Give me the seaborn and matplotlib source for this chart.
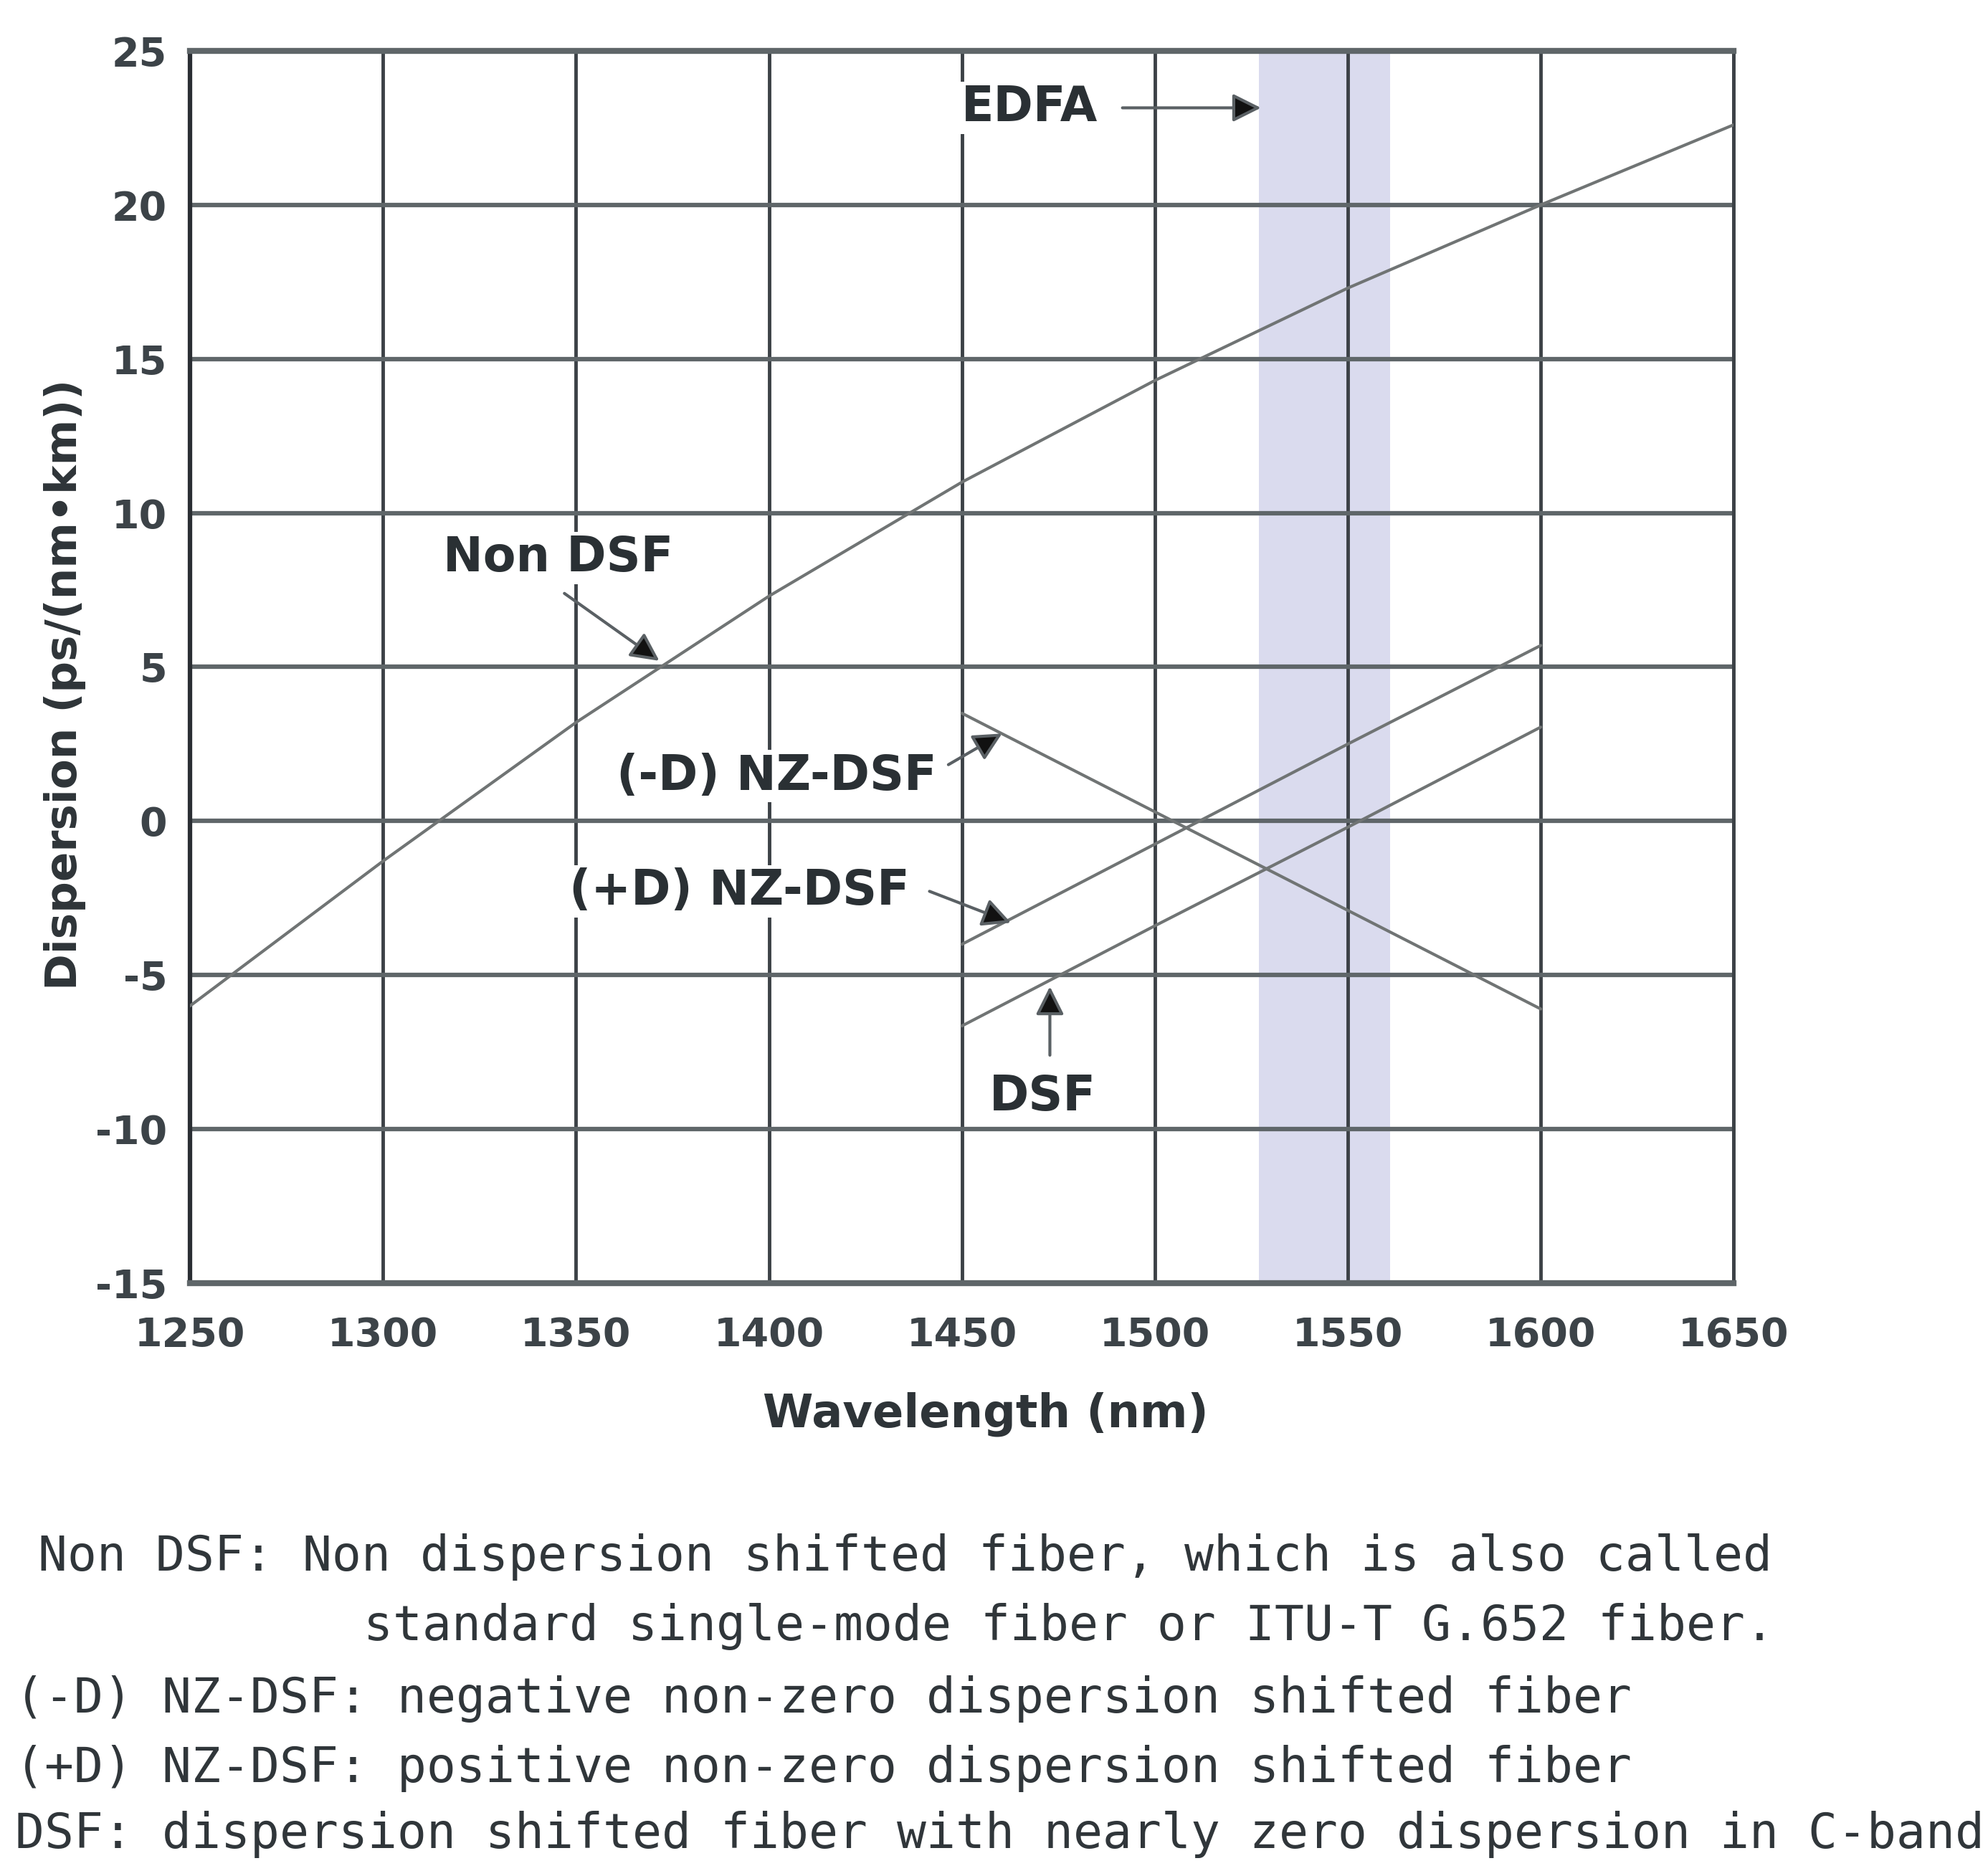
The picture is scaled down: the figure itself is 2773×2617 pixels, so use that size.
import numpy as np
import pandas as pd
import matplotlib
matplotlib.use("Agg")
import matplotlib.pyplot as plt
import seaborn as sns

# ---------------- data ----------------
nondsf_wl = [1250, 1300, 1350, 1400, 1450, 1500, 1550, 1600, 1650]
nondsf_d = [-6.0, -1.3, 3.2, 7.3, 11.0, 14.3, 17.3, 20.0, 22.6]
negnz_wl = [1450, 1500, 1550, 1600]
negnz_d = [3.5, 0.3, -2.9, -6.1]
posnz_wl = [1450, 1500, 1550, 1600]
posnz_d = [-4.0, -0.75, 2.5, 5.7]
dsf_wl = [1450, 1500, 1550, 1600]
dsf_d = [-6.65, -3.4, -0.2, 3.05]
edfa_band = [1527, 1561]
x_ticks = [1250, 1300, 1350, 1400, 1450, 1500, 1550, 1600, 1650]
y_ticks = [-15, -10, -5, 0, 5, 10, 15, 20, 25]
footer_lines = [
    "Non DSF: Non dispersion shifted fiber, which is also called",
    "standard single-mode fiber or ITU-T G.652 fiber.",
    "(-D) NZ-DSF: negative non-zero dispersion shifted fiber",
    "(+D) NZ-DSF: positive non-zero dispersion shifted fiber",
    "DSF: dispersion shifted fiber with nearly zero dispersion in C-band",
]

frames = []
for name, wl, d in [("Non DSF", nondsf_wl, nondsf_d),
                    ("(-D) NZ-DSF", negnz_wl, negnz_d),
                    ("(+D) NZ-DSF", posnz_wl, posnz_d),
                    ("DSF", dsf_wl, dsf_d)]:
    frames.append(pd.DataFrame({"Wavelength": wl, "Dispersion": d, "Fiber": name}))
df = pd.concat(frames, ignore_index=True)

# ---------------- figure ----------------
sns.set_style("white")
plt.rcParams['font.family'] = ['DejaVu Sans']
plt.rcParams['axes.unicode_minus'] = False

fig = plt.figure(figsize=(27.73, 26.17), dpi=100)
ax = fig.add_axes([0.0956, 0.316, 0.7765, 0.6569])

ax.axvspan(edfa_band[0], edfa_band[1], color="#dadbee", zorder=0.1, lw=0)

sns.lineplot(data=df, x="Wavelength", y="Dispersion", hue="Fiber",
             palette=["#707474"] * 4, linewidth=3.0, legend=False,
             sort=True, ax=ax, zorder=3)

ax.set_xlim(1250, 1650)
ax.set_ylim(-15, 25)
ax.set_xticks(x_ticks)
ax.set_yticks(y_ticks)
ax.set_axisbelow(True)
ax.xaxis.grid(True, color="#3c4146", lw=3.5)
ax.yaxis.grid(True, color="#5f6669", lw=4.5)

for side, (c, w) in {"left": ("#2a2e33", 4.5), "right": ("#3c4146", 3.5),
                     "top": ("#5f6669", 6), "bottom": ("#5f6669", 6)}.items():
    ax.spines[side].set_visible(True)
    ax.spines[side].set_color(c)
    ax.spines[side].set_linewidth(w)

ax.tick_params(axis="both", direction="out", length=9, width=3, color="#3c4146",
               labelsize=40, labelcolor="#3c4348")
ax.tick_params(axis="x", pad=24)
ax.tick_params(axis="y", pad=14)
for lab in ax.get_xticklabels() + ax.get_yticklabels():
    lab.set_fontweight("bold")

ax.set_xlabel("Wavelength (nm)", fontsize=46, fontweight="bold", color="#2e3438")
ax.set_ylabel("Dispersion (ps/(nm\u2022km))", fontsize=44, fontweight="bold", color="#2e3438")
ax.xaxis.set_label_coords(0.5156, -0.106)
ax.xaxis.label.set_va("center")
ax.yaxis.set_label_coords(-0.081, 0.486)
ax.yaxis.label.set_va("center")

# ---------------- annotations ----------------
lab_kw = dict(fontsize=48, fontweight="bold", color="#2a3034", ha="center", va="center",
              zorder=5, bbox=dict(boxstyle="square,pad=0.05", fc="white", ec="none"))
ax.text(1467.6, 23.15, "EDFA", **lab_kw)
ax.text(1345.3, 8.54, "Non DSF", **lab_kw)
ax.text(1401.9, 1.46, "(-D) NZ-DSF", **lab_kw)
ax.text(1392.3, -2.28, "(+D) NZ-DSF", **lab_kw)
ax.text(1470.9, -8.95, "DSF", **lab_kw)

arr_kw = dict(arrowstyle="-|>,head_length=0.6,head_width=0.3", color="#5a6064",
              lw=3, mutation_scale=40, fc="#111111", ec="#5a6064", shrinkA=0, shrinkB=0)
for tail, head in [((1491.6, 23.15), (1527.5, 23.15)),
                   ((1347.0, 7.39), (1371.6, 5.2)),
                   ((1446.5, 1.83), (1460.4, 2.84)),
                   ((1441.6, -2.28), (1462.7, -3.3)),
                   ((1472.8, -7.6), (1472.8, -5.37))]:
    ax.annotate("", xy=head, xytext=tail, arrowprops=arr_kw, zorder=6)

# ---------------- footer ----------------
foot_kw = dict(fontsize=49, color="#30363a", va="center", ha="left",
               family=["DejaVu Sans Mono"])
fig.text(0.0191, 0.170, footer_lines[0], **foot_kw)
fig.text(0.183, 0.133, footer_lines[1], **foot_kw)
fig.text(0.0076, 0.0944, footer_lines[2], **foot_kw)
fig.text(0.0076, 0.0573, footer_lines[3], **foot_kw)
fig.text(0.0076, 0.0222, footer_lines[4], **foot_kw)

fig.savefig("out.png", dpi=100, facecolor="white")
